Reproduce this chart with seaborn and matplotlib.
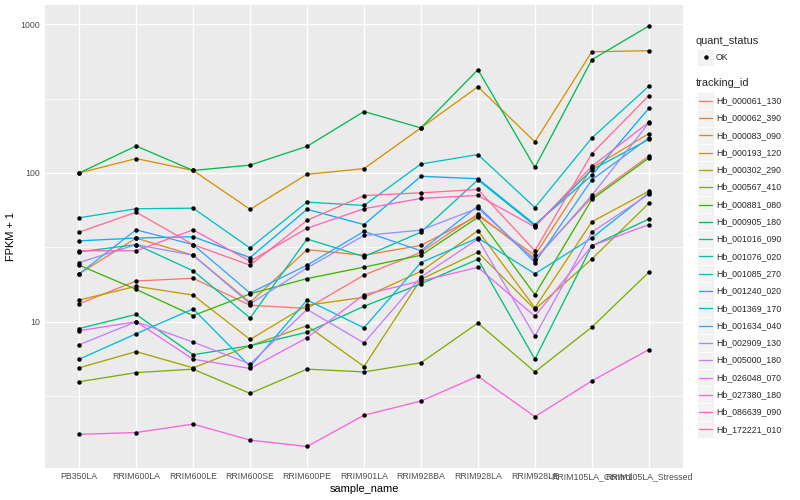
import numpy as np
import pandas as pd
import matplotlib
matplotlib.use("Agg")
import matplotlib.pyplot as plt
from matplotlib.patches import Rectangle
from matplotlib.lines import Line2D
from matplotlib.ticker import FixedLocator, NullFormatter, NullLocator
import seaborn as sns

# amostras (eixo x)
amostras = ["PB350LA", "RRIM600LA", "RRIM600LE", "RRIM600SE", "RRIM600PE", "RRIM901LA",
            "RRIM928BA", "RRIM928LA", "RRIM928LE", "RRIM105LA_Control", "RRIM105LA_Stressed"]

ids = ["Hb_000061_130", "Hb_000062_390", "Hb_000083_090", "Hb_000193_120", "Hb_000302_290",
       "Hb_000567_410", "Hb_000881_080", "Hb_000905_180", "Hb_001016_090", "Hb_001076_020",
       "Hb_001085_270", "Hb_001240_020", "Hb_001369_170", "Hb_001634_040", "Hb_002909_130",
       "Hb_005000_180", "Hb_026048_070", "Hb_027380_180", "Hb_086639_090", "Hb_172221_010"]

# paleta padrao do ggplot (hue_pal) para 20 niveis
cores = ["#F8766D", "#EA8331", "#D89000", "#C09B00", "#A3A500", "#7CAE00", "#39B600",
         "#00BB4E", "#00BF7D", "#00C1A3", "#00BFC4", "#00BAE0", "#00B0F6", "#35A2FF",
         "#9590FF", "#C77CFF", "#E76BF3", "#FA62DB", "#FF62BC", "#FF6C91"]

# FPKM + 1
hb_000061_130 = [13.2, 18.8, 19.6, 12.9, 12.3, 20.6, 29.3, 53, 26.6, 68.5, 130]
hb_000062_390 = [21, 36.5, 28, 13.5, 30.5, 28, 32.6, 51.6, 28, 108, 184]
hb_000083_090 = [100, 125, 104, 57, 98, 107, 201, 380, 162, 653, 664]
hb_000193_120 = [14, 17.3, 15.1, 7.6, 12.9, 14.6, 21.8, 41, 12.4, 47, 75.5]
hb_000302_290 = [4.9, 6.3, 4.9, 6.9, 9.4, 5.0, 19.3, 29.3, 12.1, 26.4, 62.5]
hb_000567_410 = [3.95, 4.55, 4.8, 3.3, 4.8, 4.6, 5.3, 9.8, 4.6, 9.2, 21.5]
hb_000881_080 = [24, 16.5, 11.0, 15.4, 19.5, 23.3, 28, 50.4, 15.2, 66.5, 126]
hb_000905_180 = [100, 152, 104, 113, 151, 259, 201, 495, 109, 578, 973]
hb_001016_090 = [9.0, 11.2, 6.0, 6.9, 8.5, 12.7, 18.0, 26.3, 5.6, 32.4, 49]
hb_001076_020 = [29.5, 33, 22, 10.6, 36, 27.4, 40, 90, 44.2, 105, 168]
hb_001085_270 = [50, 57.5, 58, 31.3, 63.7, 60.5, 115, 133, 58.6, 172, 383]
hb_001240_020 = [5.6, 8.3, 12.2, 5.0, 14, 9.1, 25, 36.6, 21, 36.6, 73.5]
hb_001369_170 = [35, 36.5, 37.3, 27, 57, 45, 95, 91.5, 45, 96.5, 272]
hb_001634_040 = [21, 41.5, 33, 15.6, 24, 40.5, 30, 60, 25, 90, 172]
hb_002909_130 = [25, 33, 28, 13.2, 23, 38, 41.3, 58, 26, 70.7, 217]
hb_005000_180 = [7.0, 10, 7.3, 5.2, 12.1, 7.2, 20, 36, 8.0, 40, 72]
hb_026048_070 = [8.7, 10, 5.6, 4.85, 7.8, 15.2, 18.8, 23.2, 10.9, 32.4, 45]
hb_027380_180 = [1.75, 1.8, 2.05, 1.6, 1.45, 2.35, 2.93, 4.3, 2.3, 4.0, 6.5]
hb_086639_090 = [30, 30, 41.5, 25.5, 42.5, 57.5, 67.5, 70.6, 43.4, 111, 219]
hb_172221_010 = [40, 54.5, 33, 24, 48, 70.5, 73.6, 77.5, 30, 135, 331]

series = [hb_000061_130, hb_000062_390, hb_000083_090, hb_000193_120, hb_000302_290,
          hb_000567_410, hb_000881_080, hb_000905_180, hb_001016_090, hb_001076_020,
          hb_001085_270, hb_001240_020, hb_001369_170, hb_001634_040, hb_002909_130,
          hb_005000_180, hb_026048_070, hb_027380_180, hb_086639_090, hb_172221_010]

linhas = []
for gene, vals in zip(ids, series):
    for i, v in enumerate(vals):
        linhas.append({"tracking_id": gene, "pos": i, "sample_name": amostras[i], "fpkm": v})
df = pd.DataFrame(linhas)

sns.set_theme(style="darkgrid")
plt.rcParams["font.family"] = ["Liberation Sans", "DejaVu Sans"]

W, H = 800, 500
fig = plt.figure(figsize=(W / 72, H / 72), dpi=72)
ax = fig.add_axes([45 / W, 1 - 467.5 / H, 638 / W, 462.5 / H])
ax.set_facecolor("#EBEBEB")

sns.lineplot(data=df, x="pos", y="fpkm", hue="tracking_id", hue_order=ids,
             palette=dict(zip(ids, cores)), estimator=None, sort=False,
             linewidth=1.3, legend=False, ax=ax, zorder=2)
sns.scatterplot(data=df, x="pos", y="fpkm", color="black", s=20, linewidth=0,
                legend=False, ax=ax, zorder=3)

ax.set_yscale("log")
lo = np.log10(df["fpkm"].min())
hi = np.log10(df["fpkm"].max())
pad = 0.05 * (hi - lo)
ax.set_ylim(10 ** (lo - pad), 10 ** (hi + pad))
ax.set_xlim(-0.6, len(amostras) - 0.4)

ax.set_xticks(range(len(amostras)))
ax.set_xticklabels(amostras)
ax.xaxis.set_minor_locator(NullLocator())
ax.yaxis.set_major_locator(FixedLocator([10, 100, 1000]))
ax.set_yticklabels(["10", "100", "1000"])
ax.yaxis.set_minor_locator(FixedLocator([10 ** 0.5, 10 ** 1.5, 10 ** 2.5]))
ax.yaxis.set_minor_formatter(NullFormatter())

ax.grid(which="major", color="white", linewidth=1.4)
ax.grid(which="minor", axis="y", color="white", linewidth=0.7)
ax.set_axisbelow(True)
for s in ax.spines.values():
    s.set_visible(False)
ax.tick_params(which="major", length=2.75, width=1.0, color="#333333",
               labelcolor="#4D4D4D", labelsize=8.8, pad=2.2)
ax.tick_params(which="minor", length=0)

ax.set_xlabel("sample_name", fontsize=11, color="black", labelpad=3)
ax.set_ylabel("FPKM + 1", fontsize=11, color="black", labelpad=4)

# legendas no estilo ggplot
def fx(x):
    return x / W

def fy(y):
    return 1 - y / H

tam = 17.3
fig.text(fx(696), fy(40.7), "quant_status", fontsize=11, va="center", ha="left")
fig.add_artist(Rectangle((fx(697), fy(57.2 + tam / 2)), tam / W, tam / H,
                         facecolor="#F2F2F2", edgecolor="white", linewidth=0.8,
                         transform=fig.transFigure))
fig.add_artist(Line2D([fx(697 + tam / 2)], [fy(57.2)], marker="o", markersize=4.5,
                      color="black", markeredgewidth=0, transform=fig.transFigure))
fig.text(fx(716), fy(57.2), "OK", fontsize=8.8, va="center", ha="left")

fig.text(fx(696), fy(83.3), "tracking_id", fontsize=11, va="center", ha="left")
for i, (gene, cor) in enumerate(zip(ids, cores)):
    yc = 100.7 + tam * i
    fig.add_artist(Rectangle((fx(697), fy(yc + tam / 2)), tam / W, tam / H,
                             facecolor="#F2F2F2", edgecolor="white", linewidth=0.8,
                             transform=fig.transFigure))
    fig.add_artist(Line2D([fx(698.5), fx(712)], [fy(yc), fy(yc)], color=cor,
                          linewidth=1.3, transform=fig.transFigure))
    fig.text(fx(716), fy(yc), gene, fontsize=8.8, va="center", ha="left")

fig.savefig("out.png", dpi=72, facecolor="white")
